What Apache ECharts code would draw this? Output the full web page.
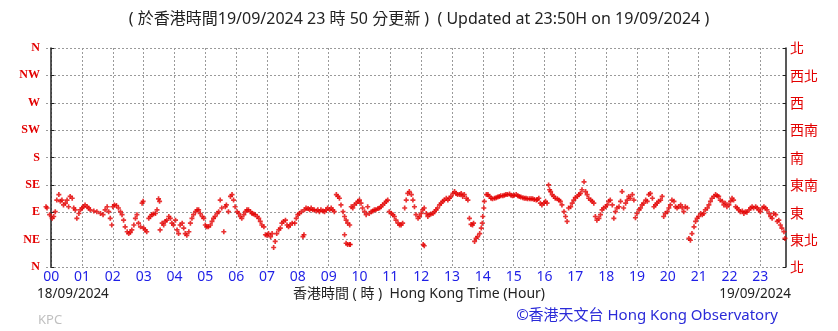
<!DOCTYPE html>
<html><head><meta charset="utf-8">
<script src="https://cdn.jsdelivr.net/npm/echarts/dist/echarts.min.js"></script>
<style>html,body{margin:0;padding:0;background:#fff}#c{width:838px;height:331px}</style>
</head><body><div id="c"></div>
<script>
// time in minutes after 00:00 (axis spans 23:50 previous day .. 23:50)
const minutes = [
-10,-8,-3,2,5,8,11,15,18,21,24,28,31,34,37,41,44,47,50,54,57,60,63,66,70,73,76,83,89,96,101,105,109,112,115,118,120,123,127,131,135,138,141,144,148,151,154,157,161,164,167,170,174,177,179,180,183,186,190,193,196,199,203,206,209,211,212,216,219,222,225,229,232,235,238,242,245,248,251,255,258,261,264,268,271,274,277,281,284,287,290,294,297,300,303,306,310,313,316,319,323,326,329,332,336,339,341,345,349,352,355,358,362,365,368,371,375,378,381,384,388,391,394,397,401,404,407,410,414,417,420,423,427,430,433,436,439,443,446,449,452,456,459,462,465,469,
474,477,480,483,487,490,492,493,496,500,503,506,509,512,516,519,522,525,529,532,535,538,542,545,548,551,555,558,561,564,568,571,574,577,581,571,574,577,581,582,584,587,590,594,597,600,603,606,610,613,616,619,623,626,629,632,636,639,642,645,649,652,655,658,662,665,668,671,675,678,681,684,688,691,694,697,701,704,707,710,714,717,720,723,724,726,726,730,733,736,739,743,746,749,752,756,759,762,765,769,772,775,778,782,785,788,791,795,798,801,804,808,811,814,817,820,822,824,827,830,834,837,839,840,842,843,847,850,853,856,859,863,866,869,872,875,879,882,885,888,892,895,898,901,905,908,911,914,918,921,924,927,931,934,937,940,944,946,949,
952,955,959,962,965,968,970,972,975,978,981,985,988,991,994,998,1001,1004,1007,1011,1014,1017,1020,1024,1027,1030,1033,1037,1040,1043,1046,1050,1053,1056,1059,1062,1066,1069,1072,1075,1079,1082,1085,1088,1092,1095,1098,1101,1105,1108,1111,1114,1118,1121,1124,1127,1131,1134,1137,1140,1144,1147,1150,1153,1157,1160,1163,1166,1170,1173,1176,1179,1182,1186,1189,1192,1195,1199,1202,1205,1208,1212,1215,1218,1221,1225,1228,1231,1234,1238,1241,1244,1247,1251,1254,1257,1260,1264,1267,1270,1273,1277,1280,1283,1286,1290,1293,1296,1299,1302,1306,1309,1312,1315,1319,1322,1325,1328,1332,1335,1338,1341,1345,1348,1351,1354,1358,1361,1364,1367,1371,1374,1377,1380,1384,1387,1390,1393,1397,1400,1403,1406,1410,1413,1416,1419,1422,1426,1428
];
// wind direction in degrees (0 = N, 90 = E ...)
const directions = [
99,97,86,80,83,91,110,119,108,110,102,105,110,99,116,113,97,94,80,88,94,97,99,102,99,97,94,92,91,88,86,94,99,91,80,69,99,102,101,97,91,86,77,66,58,55,57,61,69,80,86,72,66,105,108,64,61,58,80,83,86,87,88,94,112,108,61,72,69,75,77,83,80,72,69,77,61,55,69,72,64,55,52,58,72,80,86,91,94,94,88,83,80,69,66,66,69,75,80,83,88,91,110,97,58,99,102,91,116,119,110,99,91,88,83,80,86,91,94,94,91,88,87,86,83,80,75,69,66,53,52,55,50,55,32,42,55,61,64,72,75,77,69,66,69,72,
72,80,86,88,91,50,53,94,97,96,94,97,94,94,92,94,91,94,92,91,94,97,94,97,94,91,119,116,113,102,91,83,77,72,69,53,39,37,37,37,99,97,102,105,108,110,105,97,91,86,99,88,91,92,94,94,96,97,99,102,105,108,110,91,88,86,83,77,72,69,69,72,97,110,121,124,119,110,99,86,80,83,88,94,37,35,97,88,83,86,87,88,91,94,97,102,105,108,110,113,110,113,116,121,124,121,119,119,121,116,119,113,110,80,70,69,72,42,47,50,55,64,72,83,97,108,119,119,116,113,112,113,114,115,116,117,117,118,119,119,120,118,117,118,119,117,116,115,114,113,113,112,112,112,112,111,110,111,113,
105,102,105,108,105,135,127,124,119,116,113,112,110,108,102,91,83,75,97,99,105,110,114,116,119,121,127,140,124,119,113,110,108,105,83,77,80,86,94,97,99,102,108,110,102,80,91,97,99,108,124,97,105,110,116,113,119,110,81,88,94,97,102,105,110,108,119,121,113,99,102,105,108,110,116,83,88,91,97,102,110,108,99,97,99,102,97,91,99,97,47,44,55,66,75,80,83,88,86,88,94,97,102,108,113,116,119,117,116,110,108,102,105,99,102,108,113,110,99,97,94,91,92,88,91,90,94,97,99,97,99,97,94,91,97,99,97,94,88,83,80,88,86,75,77,69,64,58,47
];
const hourTicks = [0,60,120,180,240,300,360,420,480,540,600,660,720,780,840,900,960,1020,1080,1140,1200,1260,1320,1380];
const hourLabels = ['00','01','02','03','04','05','06','07','08','09','10','11','12','13','14','15','16','17','18','19','20','21','22','23'];
const dirLabelsEn = ['N','NE','E','SE','S','SW','W','NW','N'];
const dirLabelsZh = ['北','東北','東','東南','南','西南','西','西北','北'];
const titleText = '( 於香港時間19/09/2024 23 時 50 分更新 )  ( Updated at 23:50H on 19/09/2024 )';
const xTitle = '香港時間 ( 時 )  Hong Kong Time (Hour)';
const startDate = '18/09/2024', endDate = '19/09/2024';
const stationCode = 'KPC';
const credit = '©香港天文台 Hong Kong Observatory';

const points = minutes.map((m, i) => [m, directions[i]]);
const chart = echarts.init(document.getElementById('c'));
const red = '#e30000', blue = '#1f1fe6';
const yCommon = {
  type: 'value', min: 0, max: 360, interval: 45,
  axisLine: {show: true, lineStyle: {color: '#222', width: 1.5}},
  axisTick: {show: true, inside: true, length: 3, lineStyle: {color: '#222'}},
};
chart.setOption({
  animation: false,
  grid: {left: 46, right: 52, top: 48, bottom: 64},
  xAxis: {
    type: 'value', min: -10, max: 1430,
    axisLine: {show: false},
    axisTick: {show: false, customValues: hourTicks},
    axisLabel: {customValues: hourTicks, formatter: v => hourLabels[Math.round(v / 60)],
      color: blue, fontSize: 14, fontFamily: 'Noto Sans', margin: 3},
    splitLine: {show: true, lineStyle: {color: '#9a9a9a', type: [2, 2], width: 1}}
  },
  yAxis: [
    Object.assign({}, yCommon, {position: 'left',
      axisLabel: {formatter: v => dirLabelsEn[v / 45], color: red, fontSize: 12, fontWeight: 'bold',
        fontFamily: 'Liberation Serif', margin: 6},
      splitLine: {show: true, lineStyle: {color: '#9a9a9a', type: [2, 2], width: 1}}}),
    Object.assign({}, yCommon, {position: 'right',
      axisLabel: {formatter: v => dirLabelsZh[v / 45], color: red, fontSize: 14,
        fontFamily: 'Noto Sans CJK TC', margin: 4},
      splitLine: {show: false}})
  ],
  series: [{
    type: 'scatter', data: points, yAxisIndex: 0,
    symbol: 'path://M1,0H2V1H3V2H2V3H1V2H0V1H1Z', symbolSize: 5,
    itemStyle: {color: red}
  }],
  graphic: [
    {type: 'text', left: 'center', top: 11, style: {text: titleText, fill: '#222', font: '16px "Noto Sans", "Noto Sans CJK TC"'}},
    {type: 'text', left: 37, top: 287, style: {text: startDate, fill: '#222', font: '13.5px "Noto Sans"'}},
    {type: 'text', left: 'center', top: 287, style: {text: xTitle, fill: '#222', font: '14px "Noto Sans", "Noto Sans CJK TC"'}},
    {type: 'text', right: 47, top: 287, style: {text: endDate, fill: '#222', font: '13.5px "Noto Sans"'}},
    {type: 'text', left: 38, top: 314, style: {text: stationCode, fill: '#c0c0c0', font: '13px "Noto Sans"'}},
    {type: 'text', right: 60, top: 308, style: {text: credit, fill: '#2a2ad8', font: '15px "Noto Sans", "Noto Sans CJK TC"'}}
  ]
});
</script></body></html>
